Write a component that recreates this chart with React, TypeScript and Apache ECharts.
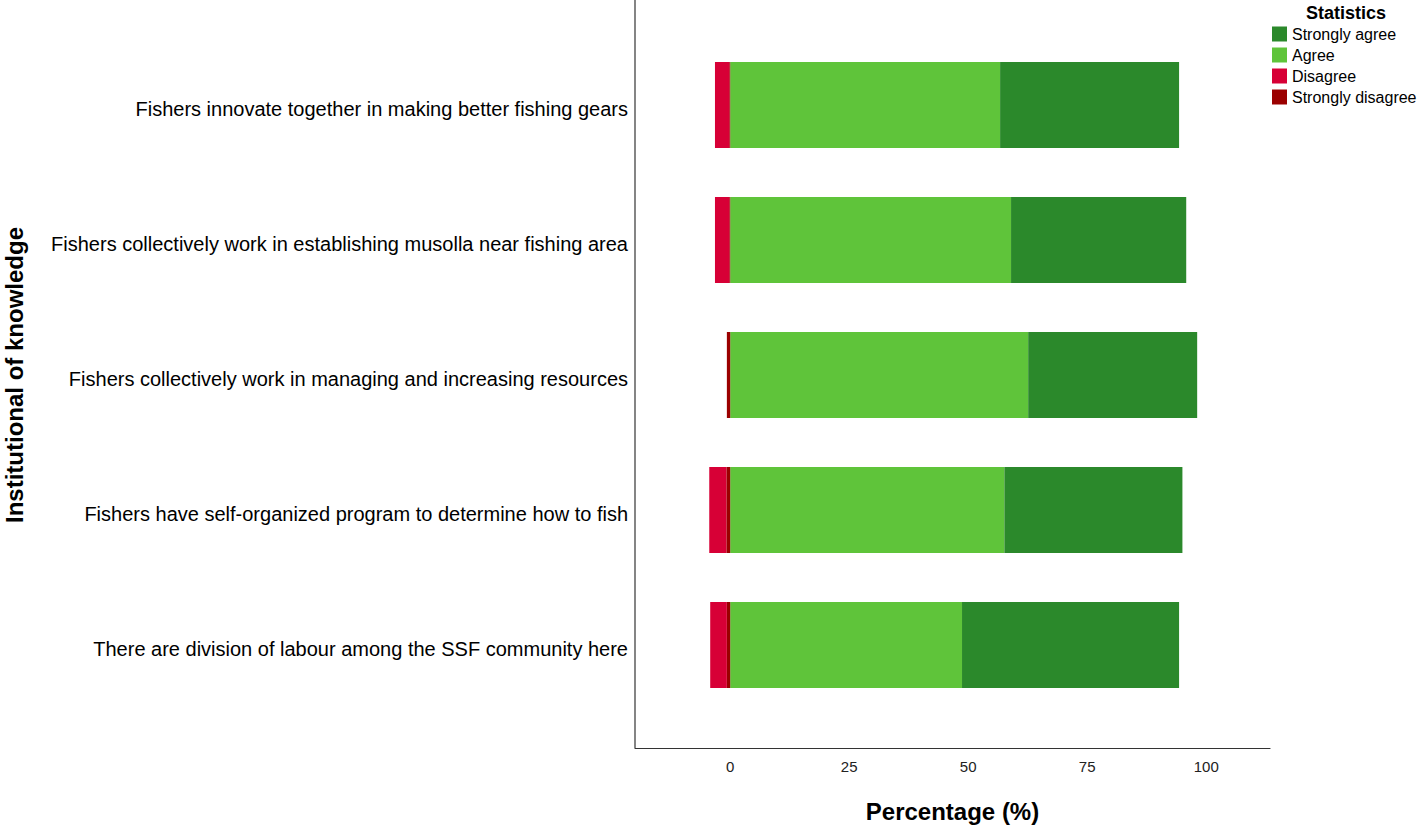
import React, { useEffect, useRef } from "react";
import * as echarts from "echarts";

const categories = [
  "Fishers innovate together in making better fishing gears",
  "Fishers collectively work in establishing musolla near fishing area",
  "Fishers collectively work in managing and increasing resources",
  "Fishers have self-organized program to determine how to fish",
  "There are division of labour among the SSF community here",
];
const stronglyAgree = [37.6, 36.8, 35.5, 37.4, 45.6];
const agree = [56.7, 59.0, 62.6, 57.6, 48.7];
const disagree = [-3.0, -3.0, 0, -3.6, -3.5];
const stronglyDisagree = [-0.2, -0.2, -0.7, -0.8, -0.7];
const xTicks = [0, 25, 50, 75, 100];

const FONT = "'Liberation Sans', Arial, Helvetica, sans-serif";
const colors = {
  sa: "#2b892b",
  a: "#5fc43a",
  d: "#d70036",
  sd: "#9b0000",
};

export default function App() {
  const ref = useRef<HTMLDivElement>(null);
  useEffect(() => {
    document.body.style.margin = "0";
    const chart = echarts.init(ref.current!, null, { renderer: "svg" });
    chart.setOption({
      animation: false,
      textStyle: { fontFamily: FONT },
      grid: { left: 635, width: 635, top: 37.5, height: 675 },
      legend: {
        orient: "vertical",
        left: 1272,
        top: 26,
        padding: 0,
        itemWidth: 15,
        itemHeight: 15,
        itemGap: 5,
        icon: "rect",
        data: ["Strongly agree", "Agree", "Disagree", "Strongly disagree"],
        textStyle: { fontSize: 16, lineHeight: 15, color: "#000", fontFamily: FONT },
        selectedMode: false,
      },
      graphic: [
        {
          type: "line",
          shape: { x1: 635, y1: 0, x2: 635, y2: 748 },
          style: { stroke: "#333", lineWidth: 1.2 },
        },
        {
          type: "text",
          x: 1346,
          y: 13,
          style: {
            text: "Statistics",
            font: `bold 18px ${FONT}`,
            fill: "#000",
            align: "center",
            verticalAlign: "middle",
          },
        },
      ],
      xAxis: {
        type: "value",
        min: -20,
        max: 113.4,
        offset: 35.5,
        splitLine: { show: false },
        axisLine: { show: true, lineStyle: { color: "#333", width: 1.2 } },
        axisTick: { show: false },
        axisLabel: {
          customValues: xTicks,
          fontSize: 15,
          color: "#222",
          margin: 11,
          fontFamily: FONT,
        },
        name: "Percentage (%)",
        nameLocation: "middle",
        nameGap: 51,
        nameTextStyle: { fontSize: 24, fontWeight: "bold", color: "#000", fontFamily: FONT },
      },
      yAxis: {
        type: "category",
        inverse: true,
        data: categories,
        axisLine: { show: false },
        axisTick: { show: false },
        axisLabel: {
          fontSize: 20,
          color: "#000",
          margin: 7,
          verticalAlign: "top",
          lineHeight: 7,
          fontFamily: FONT,
        },
        name: "Institutional of knowledge",
        nameLocation: "middle",
        nameGap: 609,
        nameRotate: 90,
        nameTextStyle: { fontSize: 24, fontWeight: "bold", color: "#000", fontFamily: FONT },
      },
      series: [
        { name: "Agree", type: "bar", stack: "t", barWidth: 86, data: agree, itemStyle: { color: colors.a } },
        { name: "Strongly agree", type: "bar", stack: "t", barWidth: 86, data: stronglyAgree, itemStyle: { color: colors.sa } },
        { name: "Strongly disagree", type: "bar", stack: "t", barWidth: 86, data: stronglyDisagree, itemStyle: { color: colors.sd } },
        { name: "Disagree", type: "bar", stack: "t", barWidth: 86, data: disagree, itemStyle: { color: colors.d } },
      ],
    });
    return () => chart.dispose();
  }, []);
  return <div ref={ref} style={{ width: 1417, height: 829 }} />;
}
